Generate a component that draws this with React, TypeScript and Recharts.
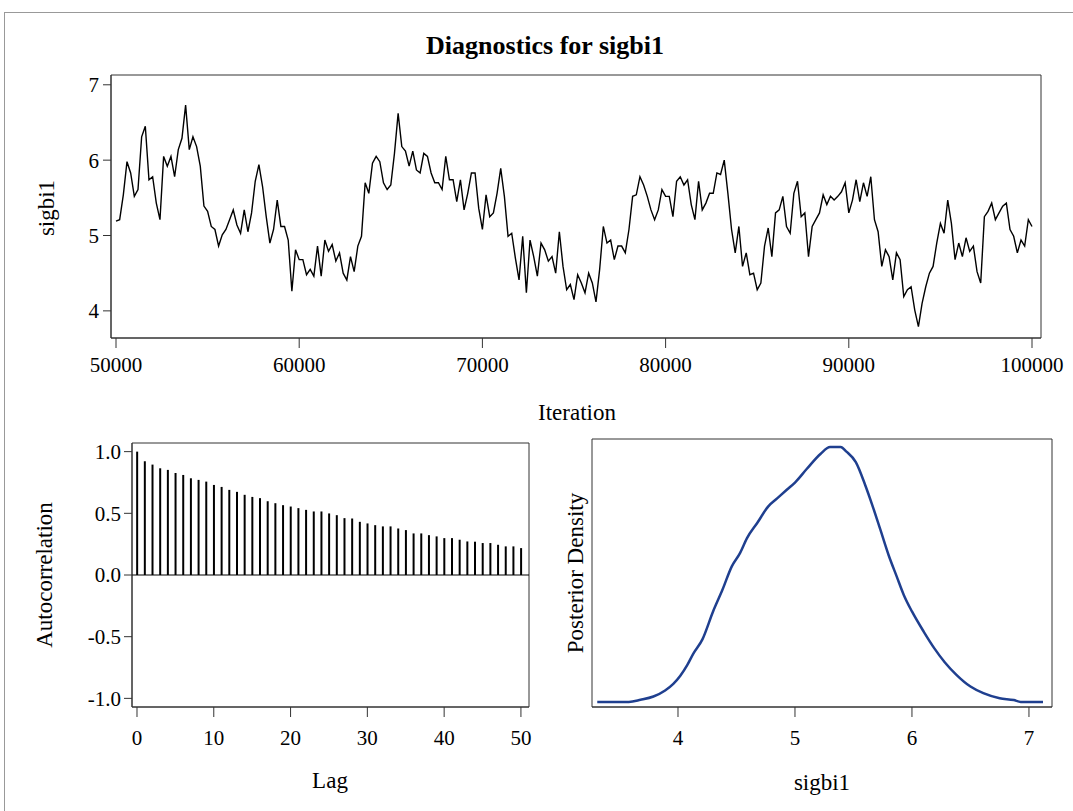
import React from "react";
import {
    LineChart,
    Line,
    BarChart,
    Bar,
    XAxis,
    YAxis,
    ReferenceArea,
    ReferenceLine,
} from "recharts";

const FONT = '"Liberation Serif", "Times New Roman", serif';
const AXIS = "#333";

// trace of sigbi1, every 200 iterations from 50000
const traceStart = 50000;
const traceStep = 200;
const traceValues = [
    5.19, 5.21, 5.54, 5.98, 5.83, 5.52, 5.61, 6.31, 6.45, 5.74, 5.78, 5.43, 5.21, 6.05, 5.92, 6.05, 5.78, 6.14, 6.29, 6.73,
    6.14, 6.31, 6.18, 5.92, 5.39, 5.32, 5.12, 5.08, 4.86, 5.01, 5.08, 5.21, 5.34, 5.14, 5.03, 5.34, 5.05, 5.3, 5.72, 5.94,
    5.65, 5.25, 4.9,
    5.08, 5.47, 5.12, 5.12, 4.94, 4.26, 4.81, 4.68, 4.68, 4.48, 4.55, 4.46, 4.86, 4.46, 4.94, 4.79, 4.88, 4.66, 4.77, 4.5,
    4.41, 4.72, 4.52, 4.86, 4.99, 5.7, 5.56, 5.96, 6.05, 5.98, 5.7, 5.61, 5.67, 6.09, 6.62, 6.18, 6.12, 5.92, 6.12, 5.87,
    5.83, 6.09,
    6.05, 5.83, 5.7, 5.7, 5.61, 6.05, 5.74, 5.74, 5.45, 5.74, 5.34, 5.56, 5.83, 5.83, 5.36, 5.08, 5.54, 5.25, 5.3, 5.56,
    5.89, 5.52, 4.99, 5.03, 4.7, 4.41, 4.99, 4.24, 4.94, 4.72, 4.46, 4.9, 4.81, 4.66, 4.72, 4.5, 5.05, 4.59, 4.28, 4.35,
    4.15, 4.48,
    4.37, 4.24, 4.5, 4.37, 4.12, 4.55, 5.12, 4.9, 4.94, 4.68, 4.86, 4.86, 4.77, 5.08, 5.52, 5.54, 5.78, 5.67, 5.52, 5.34,
    5.21, 5.34, 5.61, 5.52, 5.52, 5.25, 5.72, 5.78, 5.67, 5.74, 5.41, 5.21, 5.72, 5.34, 5.43, 5.56, 5.56, 5.83, 5.81, 6.0,
    5.56, 5.08,
    4.77, 5.12, 4.59, 4.77, 4.48, 4.5, 4.28, 4.37, 4.86, 5.1, 4.72, 5.3, 5.34, 5.52, 5.12, 5.03, 5.56, 5.72, 5.25, 5.3,
    4.72, 5.12, 5.21, 5.3, 5.54, 5.41, 5.52, 5.47, 5.52, 5.58, 5.7, 5.3, 5.47, 5.74, 5.45, 5.7, 5.52, 5.78, 5.21, 5.05,
    4.59, 4.81,
    4.72, 4.41, 4.77, 4.68, 4.19, 4.28, 4.32, 4.01, 3.79, 4.1, 4.32, 4.5, 4.59, 4.9, 5.16, 5.03, 5.47, 5.16, 4.68, 4.9,
    4.72, 4.97, 4.79, 4.86, 4.52, 4.37, 5.25, 5.32, 5.43, 5.21, 5.3, 5.39, 5.43, 5.08, 4.99, 4.77, 4.94, 4.86, 5.21, 5.12,
];
const traceTicksX = [50000, 60000, 70000, 80000, 90000, 100000];
const traceTicksY = [4, 5, 6, 7];

// autocorrelation, lags 0..50
const acfValues = [
    1.0, 0.922, 0.895, 0.865, 0.852, 0.827, 0.811, 0.784, 0.771, 0.757, 0.73, 0.714, 0.69, 0.674, 0.65, 0.633, 0.623,
    0.598, 0.582, 0.566, 0.555, 0.542, 0.528, 0.515, 0.515, 0.499, 0.485, 0.461, 0.458, 0.431, 0.418, 0.404, 0.394,
    0.394, 0.377, 0.364, 0.337, 0.337, 0.323, 0.313, 0.299, 0.299, 0.286, 0.272, 0.27, 0.259, 0.259, 0.245, 0.232,
    0.232, 0.218,
];
const acfTicksX = [0, 10, 20, 30, 40, 50];
const acfTicksY = [-1, -0.5, 0, 0.5, 1];

// posterior density of sigbi1
const densityX = [
    3.31, 3.58, 3.68, 3.79, 3.89, 3.96, 4.02, 4.08, 4.13, 4.21, 4.3, 4.38, 4.46, 4.53, 4.59, 4.68, 4.77, 4.85, 4.93,
    5.0, 5.1, 5.22, 5.3, 5.39, 5.44, 5.52, 5.6, 5.66, 5.73, 5.8, 5.87, 5.93, 6.0, 6.1, 6.19, 6.28, 6.38, 6.5, 6.61,
    6.75, 6.87, 6.93, 7.12,
];
const densityY = [
    0, 0, 0.007, 0.018, 0.038, 0.06, 0.087, 0.123, 0.16, 0.209, 0.301, 0.373, 0.451, 0.495, 0.545, 0.597, 0.65, 0.678,
    0.706, 0.73, 0.775, 0.826, 0.848, 0.848, 0.833, 0.798, 0.722, 0.656, 0.573, 0.489, 0.417, 0.356, 0.301, 0.234,
    0.179, 0.132, 0.09, 0.051, 0.029, 0.012, 0.006, 0, 0,
];
const densityTicksX = [4, 5, 6, 7];

const traceData = traceValues.map((v, i) => ({ iter: traceStart + i * traceStep, value: v }));
const acfData = acfValues.map((v, i) => ({ lag: i, acf: v }));
const densityData = densityX.map((x, i) => ({ x, d: densityY[i] }));

const tickStyle = { fill: "#000", fontSize: 21, fontFamily: FONT };

function TextAt({ text, x, y, rotate = false, size = 23, bold = false }: any) {
    return (
        <div
            style={{
                position: "absolute",
                left: x,
                top: y,
                transform: `translate(-50%, -50%)${rotate ? " rotate(-90deg)" : ""}`,
                fontFamily: FONT,
                fontSize: size,
                fontWeight: bold ? "bold" : "normal",
                lineHeight: 1,
                whiteSpace: "nowrap",
                color: "#000",
            }}
        >
            {text}
        </div>
    );
}

export default function App() {
    return (
        <div
            style={{
                position: "fixed",
                left: 0,
                top: 0,
                width: 1073,
                height: 811,
                overflow: "hidden",
                background: "#fff",
            }}
        >
            <div
                style={{
                    position: "absolute",
                    left: 4,
                    top: 12,
                    width: 1200,
                    height: 900,
                    borderLeft: "1px solid #999",
                    borderTop: "1px solid #999",
                }}
            />
            <TextAt text="Diagnostics for sigbi1" x={545} y={46} size={26} bold />

            {/* trace plot */}
            <div style={{ position: "absolute", left: 0, top: 60 }}>
                <LineChart
                    width={1073}
                    height={330}
                    data={traceData}
                    margin={{ top: 15, right: 32, left: 51, bottom: 12 }}
                >
                    <XAxis
                        dataKey="iter"
                        type="number"
                        domain={[49727, 100491]}
                        ticks={traceTicksX}
                        allowDataOverflow
                        height={40}
                        tick={tickStyle}
                        tickSize={10}
                        tickMargin={9}
                        stroke={AXIS}
                    />
                    <YAxis
                        type="number"
                        domain={[3.64, 7.13]}
                        ticks={traceTicksY}
                        allowDataOverflow
                        width={60}
                        tick={tickStyle}
                        tickSize={8}
                        tickMargin={4}
                        stroke={AXIS}
                    />
                    <ReferenceArea
                        x1={49727}
                        x2={100491}
                        y1={3.64}
                        y2={7.13}
                        fill="none"
                        stroke={AXIS}
                        ifOverflow="visible"
                    />
                    <Line
                        type="linear"
                        dataKey="value"
                        stroke="#000"
                        strokeWidth={1.4}
                        dot={false}
                        isAnimationActive={false}
                    />
                </LineChart>
            </div>
            <TextAt text="sigbi1" x={46} y={208} rotate />
            <TextAt text="Iteration" x={577} y={412} />

            {/* autocorrelation plot */}
            <div style={{ position: "absolute", left: 0, top: 430 }}>
                <BarChart
                    width={560}
                    height={320}
                    data={acfData}
                    margin={{ top: 13, right: 31, left: 72, bottom: 3 }}
                >
                    <XAxis
                        dataKey="lag"
                        type="number"
                        domain={[-0.65, 51.05]}
                        ticks={acfTicksX}
                        allowDataOverflow
                        height={40}
                        tick={tickStyle}
                        tickSize={10}
                        tickMargin={13}
                        stroke={AXIS}
                    />
                    <YAxis
                        type="number"
                        domain={[-1.07, 1.07]}
                        ticks={acfTicksY}
                        allowDataOverflow
                        width={60}
                        tick={tickStyle}
                        tickSize={8}
                        tickMargin={3}
                        tickFormatter={(v: number) => v.toFixed(1)}
                        stroke={AXIS}
                    />
                    <ReferenceArea
                        x1={-0.65}
                        x2={51.05}
                        y1={-1.07}
                        y2={1.07}
                        fill="none"
                        stroke={AXIS}
                        ifOverflow="visible"
                    />
                    <ReferenceLine y={0} stroke="#000" strokeWidth={1.2} />
                    <Bar dataKey="acf" fill="#000" barSize={2} isAnimationActive={false} />
                </BarChart>
            </div>
            <TextAt text="Autocorrelation" x={44} y={575} rotate />
            <TextAt text="Lag" x={330} y={780} />

            {/* density plot */}
            <div style={{ position: "absolute", left: 560, top: 430 }}>
                <LineChart
                    width={513}
                    height={320}
                    data={densityData}
                    margin={{ top: 9, right: 21, left: 32, bottom: 3 }}
                >
                    <XAxis
                        dataKey="x"
                        type="number"
                        domain={[3.265, 7.197]}
                        ticks={densityTicksX}
                        allowDataOverflow
                        height={40}
                        tick={tickStyle}
                        tickSize={10}
                        tickMargin={13}
                        stroke={AXIS}
                    />
                    <YAxis type="number" domain={[-0.017, 0.875]} allowDataOverflow hide />
                    <ReferenceArea
                        x1={3.265}
                        x2={7.197}
                        y1={-0.017}
                        y2={0.875}
                        fill="none"
                        stroke={AXIS}
                        ifOverflow="visible"
                    />
                    <Line
                        type="monotone"
                        dataKey="d"
                        stroke="#1f3f8f"
                        strokeWidth={2.5}
                        dot={false}
                        isAnimationActive={false}
                    />
                </LineChart>
            </div>
            <TextAt text="Posterior Density" x={575} y={573} rotate />
            <TextAt text="sigbi1" x={822} y={782} />
        </div>
    );
}
